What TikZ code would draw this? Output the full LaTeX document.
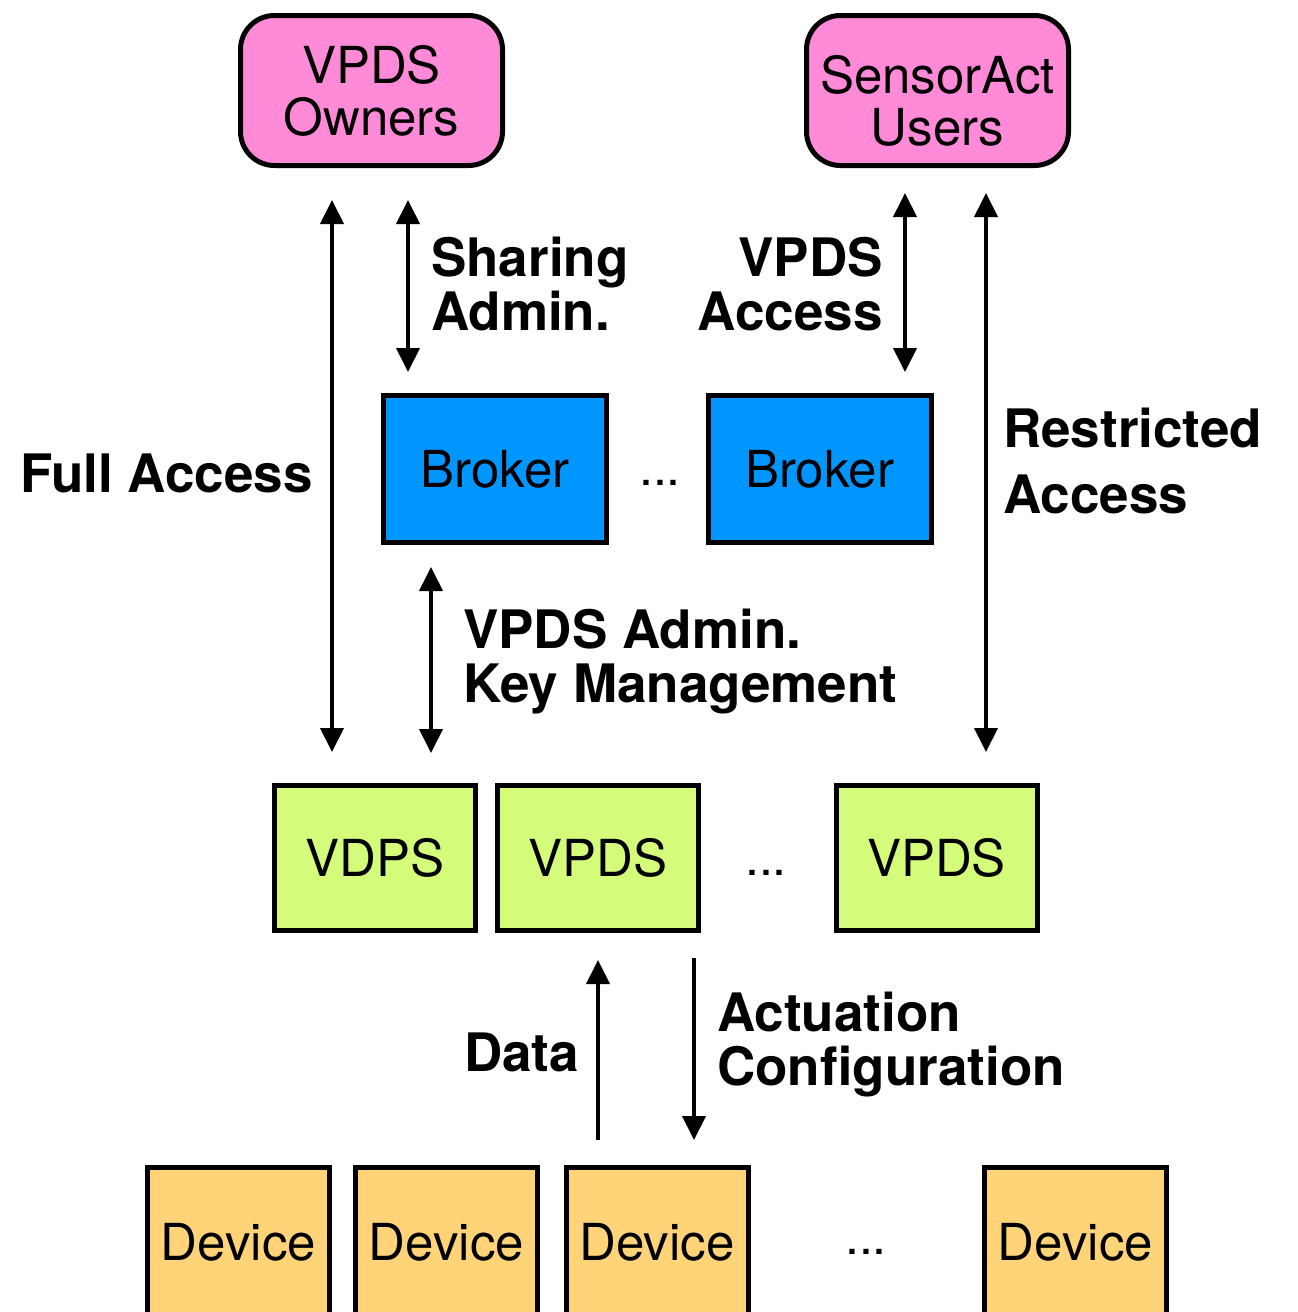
\documentclass[tikz,border=0pt]{standalone}
\usepackage{fontspec}
\setmainfont{TeX Gyre Heros}
\usetikzlibrary{arrows.meta}

\definecolor{ownerpink}{HTML}{FF8AD8}
\definecolor{brokerblue}{HTML}{0096FF}
\definecolor{vpdsgreen}{HTML}{D4FB79}
\definecolor{devorange}{HTML}{FFD479}

\begin{document}
\begin{tikzpicture}[x=1pt,y=-1pt,
  box/.style={draw=black, line width=5pt, inner sep=0pt, outer sep=0pt,
    align=center, font=\fontsize{51}{52}\selectfont},
  userbox/.style={box, fill=ownerpink, rounded corners=34pt,
    minimum width=262pt, minimum height=150pt},
  brokerbox/.style={box, fill=brokerblue, minimum width=223pt, minimum height=147pt},
  vpdsbox/.style={box, fill=vpdsgreen, minimum width=201pt, minimum height=145pt},
  devbox/.style={box, fill=devorange, minimum width=182pt, minimum height=150pt},
  boxtext/.style={inner sep=0pt, align=center, font=\fontsize{51}{52}\selectfont},
  gap/.style={inner sep=0pt, font=\fontsize{50}{52}\selectfont},
  lbl/.style={inner sep=0pt, font=\fontsize{53}{54}\selectfont\bfseries},
  flow/.style={line width=4pt, -{Triangle[length=24pt,width=23pt]}},
  bothflow/.style={line width=4pt, {Triangle[length=24pt,width=23pt]}-{Triangle[length=24pt,width=23pt]}}
]
\useasboundingbox (0,0) rectangle (1298,1312);
\clip (0,0) rectangle (1298,1312);

% user groups
\node[userbox] (owners) at (371.5,90.5) {VPDS\\Owners};
\node[userbox] (users) at (937.5,90.5) {};
\node[boxtext] (userstext) at (937.5,101) {SensorAct\\Users};

% brokers
\node[brokerbox] (broker1) at (495,469) {Broker};
\node[gap] (bdots) at (660,483) {...};
\node[brokerbox] (broker2) at (819.5,469) {Broker};

% data stores
\node[vpdsbox] (vpds1) at (375,858) {VDPS};
\node[vpdsbox] (vpds2) at (598,858) {VPDS};
\node[gap] (vdots) at (766,873) {...};
\node[vpdsbox] (vpds3) at (936.5,858) {VPDS};

% devices
\node[devbox] (dev1) at (238.5,1242.5) {Device};
\node[devbox] (dev2) at (446.5,1242.5) {Device};
\node[devbox] (dev3) at (657,1242.5) {Device};
\node[gap] (ddots) at (866,1252) {...};
\node[devbox] (dev4) at (1075.5,1242.5) {Device};

% connectors
\draw[bothflow] ([xshift=-39.5pt,yshift=-34.5pt]owners.south) -- ([xshift=-43pt,yshift=33.5pt]vpds1.north);
\draw[bothflow] ([xshift=36.5pt,yshift=-34.5pt]owners.south) -- ([xshift=-87pt,yshift=23.5pt]broker1.north);
\draw[bothflow] ([xshift=-32.5pt,yshift=-27.5pt]users.south) -- ([xshift=85.5pt,yshift=23.5pt]broker2.north);
\draw[bothflow] ([xshift=48.5pt,yshift=-27.5pt]users.south) -- ([xshift=49.5pt,yshift=33.5pt]vpds3.north);
\draw[bothflow] ([xshift=-64pt,yshift=-24.5pt]broker1.south) -- ([xshift=56pt,yshift=32.5pt]vpds1.north);
\draw[flow] ([xshift=-59pt,yshift=27.5pt]dev3.north) -- ([yshift=-29.5pt]vpds2.south);
\draw[flow] ([xshift=96pt,yshift=-27.5pt]vpds2.south) -- ([xshift=37pt,yshift=27.5pt]dev3.north);

% connector labels
\node[lbl, anchor=east] (lfull) at (313,473) {Full Access};
\node[lbl, anchor=west, align=left] (lshare) at (431,284) {Sharing\\Admin.};
\node[lbl, anchor=east, align=right] (laccess) at (883,284) {VPDS\\Access};
\node[lbl, anchor=west, align=left, font=\fontsize{53}{66}\selectfont\bfseries] (lrestr) at (1003,461) {Restricted\\Access};
\node[lbl, anchor=west, align=left] (ladmin) at (463,662) {VPDS Admin.\\Key Management};
\node[lbl, anchor=west] (ldata) at (464,1052) {Data};
\node[lbl, anchor=west, align=left] (lact) at (717,1045) {Actuation\\Configuration};
\end{tikzpicture}
\end{document}
